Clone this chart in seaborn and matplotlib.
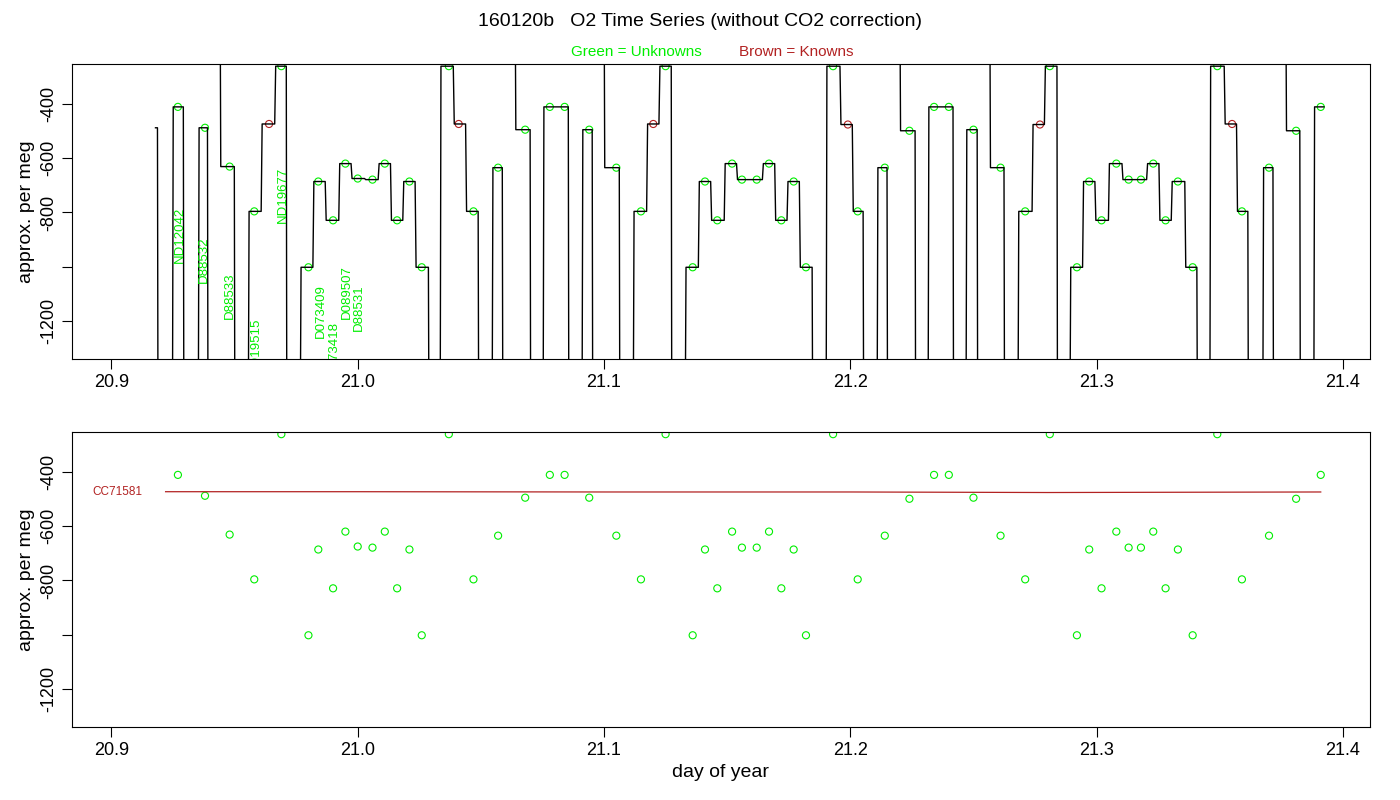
import numpy as np
import pandas as pd
import matplotlib
matplotlib.use("Agg")
import matplotlib.pyplot as plt
import seaborn as sns

plt.rcParams["font.family"] = "Liberation Sans"

# ---- data ----
unk_day = [20.927, 20.938, 20.948, 20.958, 20.969, 20.980, 20.984, 20.990, 20.995, 21.000,
           21.006, 21.011, 21.016, 21.021, 21.026, 21.037, 21.047, 21.057, 21.068, 21.078,
           21.084, 21.094, 21.105, 21.115, 21.125, 21.136, 21.141, 21.146, 21.152, 21.156,
           21.162, 21.167, 21.172, 21.177, 21.182, 21.193, 21.203, 21.214, 21.224, 21.234,
           21.240, 21.250, 21.261, 21.271, 21.281, 21.292, 21.297, 21.302, 21.308, 21.313,
           21.318, 21.323, 21.328, 21.333, 21.339, 21.349, 21.359, 21.370, 21.381, 21.391]
unk_val = [-411, -488, -631, -796, -261, -1002, -686, -829, -620, -675,
           -679, -620, -829, -686, -1002, -261, -796, -635, -495, -411,
           -411, -495, -635, -796, -261, -1002, -686, -829, -620, -679,
           -679, -620, -829, -686, -1002, -261, -796, -635, -499, -411,
           -411, -495, -635, -796, -261, -1002, -686, -829, -620, -679,
           -679, -620, -829, -686, -1002, -261, -796, -635, -499, -411]
known_day = [20.964, 21.041, 21.120, 21.199, 21.277, 21.355]
known_val = [-474, -474, -474, -476, -476, -474]
ref_day = [20.922, 21.0, 21.1, 21.2, 21.28, 21.391]
ref_val = [-473, -473, -474, -474, -476, -474]

# runs of the raw trace: start, end, kind (rise from below / spike from top / partial)
run_start = [20.9179, 20.9248, 20.9353, 20.9442, 20.9556, 20.9767, 21.0335, 21.0546, 21.0640,
             21.0753, 21.0911, 21.1001, 21.1119, 21.1330, 21.1902, 21.2109, 21.2202, 21.2316,
             21.2470, 21.2567, 21.2681, 21.2892, 21.3460, 21.3675, 21.3769, 21.3882]
run_end = [20.9187, 20.9292, 20.9390, 20.9499, 20.9710, 21.0287, 21.0489, 21.0587, 21.0700,
           21.0855, 21.0952, 21.1062, 21.1273, 21.1845, 21.2052, 21.2149, 21.2263, 21.2417,
           21.2515, 21.2624, 21.2839, 21.3407, 21.3614, 21.3716, 21.3825, 21.3923]
run_kind = ["partial", "rise", "rise", "spike", "rise", "rise", "rise", "rise", "spike",
            "rise", "rise", "spike", "rise", "rise", "rise", "rise", "spike", "rise",
            "rise", "spike", "rise", "rise", "rise", "rise", "spike", "last"]
partial_level = -488

lab_text = ["ND12042", "D88532", "D88533", "ND19515", "ND19677", "D073409", "D073418", "D089507", "D88531"]
lab_day = [20.9276, 20.9374, 20.9480, 20.9585, 20.9698, 20.9850, 20.9903, 20.9955, 21.0003]
lab_val = [-884, -976, -1108, -1290, -734, -1163, -1300, -1094, -1152]

# ---- build trace from the plateau points ----
all_day = np.array(unk_day + known_day)
all_val = np.array(unk_val + known_val)
o = np.argsort(all_day)
all_day, all_val = all_day[o], all_val[o]
LOW, HIGH = -1500, -150
tx, ty, tg = [], [], []
for i, (s, e, k) in enumerate(zip(run_start, run_end, run_kind)):
    m = (all_day >= s) & (all_day <= e + 0.002)
    d, v = all_day[m], all_val[m]
    if k == "partial":
        xs = [s, e, e + 0.0002]; ys = [partial_level, partial_level, LOW]
    else:
        xs = [s, s + 0.0003] if k != "spike" else [s, s + 0.0002]
        ys = [LOW if k != "spike" else HIGH, v[0]]
        for j in range(1, len(d)):
            mid = (d[j - 1] + d[j]) / 2
            xs += [mid - 0.0002, mid + 0.0002]; ys += [v[j - 1], v[j]]
        xs.append(e); ys.append(v[-1])
        if k != "last":
            xs.append(e + 0.0002); ys.append(LOW)
    tx += xs; ty += ys; tg += [i] * len(xs)
trace = pd.DataFrame({"day": tx, "val": ty, "run": tg})

GREEN = "#00ee00"
BROWN = "#b22222"

fig = plt.figure(figsize=(14, 8), dpi=100)
ax1 = fig.add_axes([72 / 1400, 1 - 359 / 800, 1298 / 1400, 295 / 800])
ax2 = fig.add_axes([72 / 1400, 1 - 727 / 800, 1298 / 1400, 295 / 800])

sns.lineplot(data=trace, x="day", y="val", units="run", estimator=None, sort=False,
             color="black", linewidth=1.0, ax=ax1)
sns.scatterplot(x=unk_day, y=unk_val, marker="o", s=26, facecolors="none",
                edgecolor=GREEN, linewidth=0.8, ax=ax1)
sns.scatterplot(x=known_day, y=known_val, marker="o", s=26, facecolors="none",
                edgecolor=BROWN, linewidth=0.8, ax=ax1)
for t, d, v in zip(lab_text, lab_day, lab_val):
    ax1.text(d, v, t, rotation=90, color=GREEN, fontsize=9.5, ha="center", va="center", clip_on=True)

sns.scatterplot(x=unk_day, y=unk_val, marker="o", s=26, facecolors="none",
                edgecolor=GREEN, linewidth=0.8, ax=ax2)
sns.lineplot(x=ref_day, y=ref_val, color=BROWN, linewidth=0.9, ax=ax2)
ax2.text(20.9125, -473, "CC71581", color=BROWN, fontsize=8.5, ha="right", va="center")

for ax in (ax1, ax2):
    ax.set_xlim(20.884, 21.411)
    ax.set_ylim(-1340, -253)
    ax.set_xticks([20.9, 21.0, 21.1, 21.2, 21.3, 21.4])
    ax.set_xticklabels(["20.9", "21.0", "21.1", "21.2", "21.3", "21.4"], fontsize=13)
    ax.set_yticks([-400, -600, -800, -1000, -1200])
    ax.set_yticklabels(["-400", "-600", "-800", "", "-1200"], fontsize=13, rotation=90, va="center")
    ax.set_ylabel("approx. per meg", fontsize=14)
    ax.set_xlabel("")
    ax.tick_params(length=7, width=0.8)
    for sp in ax.spines.values():
        sp.set_linewidth(0.8)
ax2.set_xlabel("day of year", fontsize=14)

fig.text(0.5, 1 - 22 / 800, "160120b   O2 Time Series (without CO2 correction)",
         ha="center", va="center", fontsize=14)
fig.text(636 / 1400, 1 - 52 / 800, "Green = Unknowns", color=GREEN, ha="center", va="center", fontsize=11)
fig.text(796 / 1400, 1 - 52 / 800, "Brown = Knowns", color=BROWN, ha="center", va="center", fontsize=11)

fig.savefig("out.png", dpi=100)
